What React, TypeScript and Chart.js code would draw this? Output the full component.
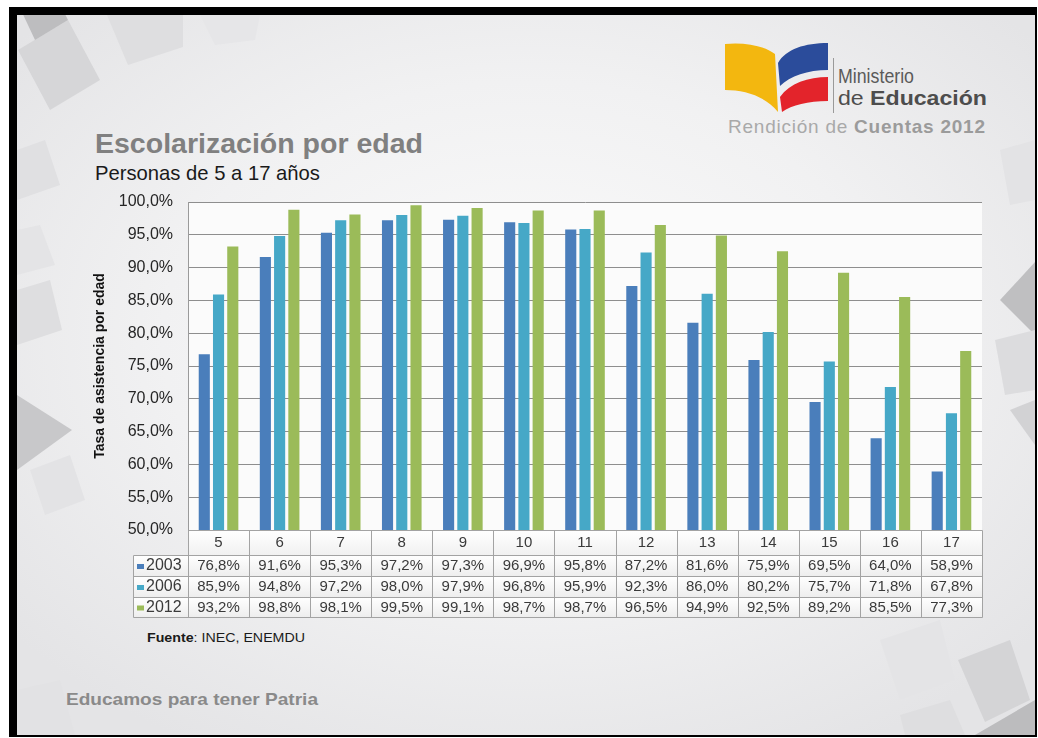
import React, { useEffect, useRef } from "react";
import { Chart, registerables } from "chart.js";

Chart.register(...registerables);

// ---------- data ----------
const ages = ["5", "6", "7", "8", "9", "10", "11", "12", "13", "14", "15", "16", "17"];
const series2003 = [76.8, 91.6, 95.3, 97.2, 97.3, 96.9, 95.8, 87.2, 81.6, 75.9, 69.5, 64.0, 58.9];
const series2006 = [85.9, 94.8, 97.2, 98.0, 97.9, 96.8, 95.9, 92.3, 86.0, 80.2, 75.7, 71.8, 67.8];
const series2012 = [93.2, 98.8, 98.1, 99.5, 99.1, 98.7, 98.7, 96.5, 94.9, 92.5, 89.2, 85.5, 77.3];
const seriesNames = ["2003", "2006", "2012"];
const seriesColors = ["#4a7ebb", "#46a8c7", "#9bbb59"];
const yMin = 50;
const yMax = 100;
const yStep = 5;

const FONT = "'Liberation Sans', Arial, sans-serif";
const fmt = (v: number) => v.toFixed(1).replace(".", ",") + "%";

const allSeries = [series2003, series2006, series2012];

// row heights of the data table under the plot
const catRowH = 25;
const dataRowH = [21, 21, 20];
const legendColW = 55;

const tablePlugin = {
  id: "dataTable",
  beforeDraw(chart: any) {
    const { ctx, chartArea } = chart;
    const { left, right, top, bottom } = chartArea;
    ctx.save();
    // plot background
    ctx.fillStyle = "#fbfbfb";
    ctx.fillRect(left, top, right - left, bottom - top);
    // category row background
    const g1 = ctx.createLinearGradient(0, bottom, 0, bottom + catRowH);
    g1.addColorStop(0, "#ffffff");
    g1.addColorStop(1, "#f1f1f1");
    ctx.fillStyle = g1;
    ctx.fillRect(left, bottom, right - left, catRowH);
    // data rows background
    let y = bottom + catRowH;
    for (let i = 0; i < dataRowH.length; i++) {
      const g = ctx.createLinearGradient(0, y, 0, y + dataRowH[i]);
      g.addColorStop(0, "#ffffff");
      g.addColorStop(1, "#eeeeee");
      ctx.fillStyle = g;
      ctx.fillRect(left - legendColW, y, right - left + legendColW, dataRowH[i]);
      y += dataRowH[i];
    }
    ctx.restore();
  },
  afterDraw(chart: any) {
    const { ctx, chartArea, scales } = chart;
    const xs = scales.x;
    const { left, right, bottom } = chartArea;
    const n = ages.length;
    const cw = (right - left) / n;
    const tableBottom = bottom + catRowH + dataRowH.reduce((a, b) => a + b, 0);
    ctx.save();
    ctx.strokeStyle = "#a3a3a3";
    ctx.lineWidth = 1;
    // horizontal lines
    const line = (x1: number, y1: number, x2: number, y2: number) => {
      ctx.beginPath();
      ctx.moveTo(Math.round(x1) + 0.5, Math.round(y1) + 0.5);
      ctx.lineTo(Math.round(x2) + 0.5, Math.round(y2) + 0.5);
      ctx.stroke();
    };
    line(left, bottom, right, bottom);
    let y = bottom + catRowH;
    line(left - legendColW, y, right, y);
    for (let i = 0; i < dataRowH.length; i++) {
      y += dataRowH[i];
      line(left - legendColW, y, right, y);
    }
    // vertical lines
    for (let j = 0; j <= n; j++) {
      const xx = left + j * cw;
      line(xx, bottom, xx, tableBottom);
    }
    line(left - legendColW, bottom + catRowH, left - legendColW, tableBottom);

    // texts
    ctx.textBaseline = "middle";
    y = bottom + catRowH;
    for (let i = 0; i < allSeries.length; i++) {
      const cy = y + dataRowH[i] / 2 + 0.5;
      // legend key
      ctx.fillStyle = seriesColors[i];
      ctx.fillRect(left - legendColW + 4, cy - 2, 7, 5);
      ctx.fillStyle = "#3a3a3a";
      ctx.font = `16px ${FONT}`;
      ctx.textAlign = "left";
      ctx.fillText(seriesNames[i], left - legendColW + 13, cy);
      ctx.font = `15px ${FONT}`;
      ctx.textAlign = "center";
      for (let j = 0; j < n; j++) {
        ctx.fillText(fmt(allSeries[i][j]), xs.getPixelForValue(j), cy);
      }
      y += dataRowH[i];
    }
    ctx.restore();
  },
};

function ChartCanvas() {
  const ref = useRef<HTMLCanvasElement | null>(null);
  useEffect(() => {
    if (!ref.current) return;
    const chart = new Chart(ref.current, {
      type: "bar",
      data: {
        labels: ages,
        datasets: allSeries.map((s, i) => ({
          label: seriesNames[i],
          data: s,
          backgroundColor: seriesColors[i],
          borderWidth: 0,
          categoryPercentage: 0.7,
          barPercentage: 0.78,
        })),
      },
      options: {
        animation: false,
        responsive: false,
        maintainAspectRatio: false,
        layout: { padding: { left: 92, top: 202, right: 56, bottom: 121 } },
        plugins: {
          legend: { display: false },
          tooltip: { enabled: false },
          title: { display: false },
        },
        scales: {
          x: {
            grid: { display: false, drawTicks: false },
            border: { display: false },
            ticks: {
              padding: 4,
              font: { family: FONT, size: 15 },
              color: "#3a3a3a",
              maxRotation: 0,
            },
            afterFit: (s: any) => {
              s.height = catRowH + dataRowH.reduce((a, b) => a + b, 0);
              s.paddingLeft = 0;
              s.paddingRight = 0;
            },
          },
          y: {
            min: yMin,
            max: yMax,
            ticks: {
              stepSize: yStep,
              padding: 15,
              font: { family: FONT, size: 16 },
              color: "#262626",
              callback: (v: any) => fmt(Number(v)),
            },
            grid: { color: "#8e8e8e", lineWidth: 1, drawTicks: false },
            border: { display: true, color: "#9a9a9a" },
            title: {
              display: true,
              text: "Tasa de asistencia por edad",
              font: { family: FONT, size: 14, weight: "bold" },
              color: "#111111",
              padding: 0,
            },
            afterFit: (s: any) => {
              s.width = 96;
              s.paddingTop = 0;
              s.paddingBottom = 0;
            },
          },
        },
      },
      plugins: [tablePlugin],
    });
    return () => chart.destroy();
  }, []);
  return (
    <canvas
      ref={ref}
      width={1038}
      height={738}
      style={{ position: "absolute", left: 0, top: 0, width: 1038, height: 738 }}
    />
  );
}

function Background() {
  return (
    <svg
      width={1038}
      height={738}
      style={{ position: "absolute", left: 0, top: 0 }}
      xmlns="http://www.w3.org/2000/svg"
    >
      <defs>
        <radialGradient id="bg" cx="50%" cy="45%" r="65%">
          <stop offset="0%" stopColor="#fbfbfb" />
          <stop offset="55%" stopColor="#f1f1f2" />
          <stop offset="100%" stopColor="#e4e4e6" />
        </radialGradient>
        <clipPath id="frame">
          <rect x={17} y={15} width={1018} height={720} />
        </clipPath>
      </defs>
      <rect x={0} y={0} width={1038} height={738} fill="#ffffff" />
      <rect x={9} y={7} width={1028} height={730} fill="#000000" />
      <rect x={17} y={15} width={1018} height={720} fill="url(#bg)" />
      <g clipPath="url(#frame)">
        {/* top-left squares */}
        <polygon points="18,50 68,20 100,80 50,110" fill="#d6d6d8" />
        <polygon points="20,8 62,8 68,20 35,40" fill="#bdbdbf" />
        <polygon points="107,15 183,15 183,47 128,65" fill="#dedee0" />
        <polygon points="200,15 260,15 255,40 215,45" fill="#e6e6e8" />
        {/* left side */}
        <polygon points="17,150 45,140 60,185 17,200" fill="#e0e0e2" />
        <polygon points="17,230 40,225 55,265 17,275" fill="#e4e4e6" />
        <polygon points="17,290 50,280 62,330 17,345" fill="#dedee0" />
        <polygon points="17,395 72,430 17,470" fill="#c8c8ca" />
        <polygon points="30,470 70,455 85,500 45,515" fill="#e3e3e5" />
        {/* right side */}
        <polygon points="1035,262 1000,300 1035,335" fill="#bfbfc1" />
        <polygon points="995,340 1035,330 1035,390 1005,395" fill="#dcdcde" />
        <polygon points="1000,150 1035,140 1035,200 1010,205" fill="#e3e3e5" />
        <polygon points="1010,410 1035,400 1035,445" fill="#d2d2d4" />
        {/* bottom right */}
        <polygon points="958,660 1010,640 1030,700 985,722" fill="#d4d4d6" />
        <polygon points="880,640 940,620 955,680 900,700" fill="#e4e4e6" />
        <polygon points="975,735 1035,700 1035,735" fill="#bcbcbe" />
        <polygon points="900,715 950,700 965,735 905,735" fill="#dedee0" />
        {/* bottom left */}
        <polygon points="17,690 60,680 75,735 17,735" fill="#e2e2e4" />
      </g>

      {/* logo */}
      <path d="M725,44 C745,42 765,46 775,54 L778,112 C765,96 745,90 725,90 Z" fill="#f3b70f" />
      <path d="M778,63 C786,49 805,43 828,43 L828,70 C808,70 790,76 780,86 Z" fill="#2b4c9b" />
      <path d="M780,97 C790,83 808,77 828,77 L828,101 C808,101 792,105 782,112 Z" fill="#e3242b" />
      <line x1={833.5} y1={58} x2={833.5} y2={113} stroke="#9a9a9a" strokeWidth={1} />
      <text x={838} y={83} fontFamily={FONT} fontSize={20} fill="#5a5a5a" textLength={76} lengthAdjust="spacingAndGlyphs">
        Ministerio
      </text>
      <text x={838} y={105} fontFamily={FONT} fontSize={21} fill="#4d4d4d" textLength={149} lengthAdjust="spacingAndGlyphs">
        de <tspan fontWeight="bold">Educación</tspan>
      </text>
      <text x={728} y={133} fontFamily={FONT} fontSize={19} fill="#a9a9a9" textLength={257} lengthAdjust="spacing">
        Rendición de <tspan fontWeight="bold" fill="#9b9b9b">Cuentas 2012</tspan>
      </text>

      {/* titles */}
      <text x={95} y={153} fontFamily={FONT} fontSize={28} fontWeight="bold" fill="#808080" textLength={328} lengthAdjust="spacingAndGlyphs">
        Escolarización por edad
      </text>
      <text x={95} y={180} fontFamily={FONT} fontSize={21} fill="#1a1a1a" textLength={225} lengthAdjust="spacingAndGlyphs">
        Personas de 5 a 17 años
      </text>

      {/* source */}
      <text x={147} y={642} fontFamily={FONT} fontSize={13} fill="#1a1a1a" textLength={158} lengthAdjust="spacingAndGlyphs">
        <tspan fontWeight="bold">Fuente</tspan>: INEC,  ENEMDU
      </text>

      {/* footer */}
      <text x={66} y={705} fontFamily={FONT} fontSize={17} fontWeight="bold" fill="#8a8a8a" textLength={252} lengthAdjust="spacingAndGlyphs">
        Educamos para tener Patria
      </text>
    </svg>
  );
}

export default function App() {
  useEffect(() => {
    document.body.style.margin = "0";
  }, []);
  return (
    <div style={{ position: "relative", width: 1038, height: 738, overflow: "hidden", margin: 0 }}>
      <Background />
      <ChartCanvas />
    </div>
  );
}
